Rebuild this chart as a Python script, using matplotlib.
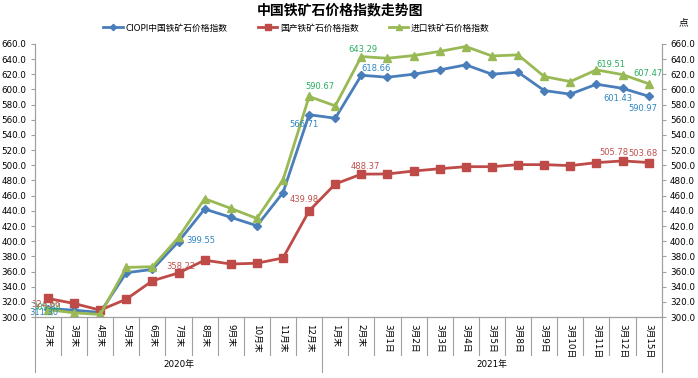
"""中国铁矿石价格指数走势图"""
import numpy as np
import matplotlib
matplotlib.use("Agg")
import matplotlib.pyplot as plt
import matplotlib.transforms as mtransforms

plt.rcParams['font.family'] = ['DejaVu Sans', 'Noto Sans CJK SC']

cats_2020 = ['2月末', '3月末', '4月末', '5月末', '6月末', '7月末', '8月末', '9月末',
             '10月末', '11月末', '12月末']
cats_2021 = ['1月末', '2月末', '3月1日', '3月2日', '3月3日', '3月4日', '3月5日',
             '3月8日', '3月9日', '3月10日', '3月11日', '3月12日', '3月15日']
years = ['2020年', '2021年']

ciopi = [311.30, 309.2, 306.2, 358.5, 362.9, 399.55, 442.4, 431.5, 420.4, 464.0,
         566.71, 562.0, 618.66, 616.0, 620.0, 625.7, 632.3, 620.0, 622.7, 598.5,
         593.7, 606.8, 601.43, 590.97]
domestic = [324.66, 318.0, 309.2, 323.7, 347.9, 358.22, 375.0, 370.0, 371.0, 378.0,
            439.98, 475.4, 488.37, 488.6, 492.5, 495.5, 498.2, 498.2, 500.9, 500.9,
            499.6, 503.5, 505.78, 503.68]
imported = [309.84, 305.7, 303.5, 365.5, 366.4, 405.0, 456.0, 443.3, 430.0, 480.7,
            590.67, 578.3, 643.29, 641.0, 644.6, 650.0, 656.5, 644.0, 645.5, 617.0,
            610.3, 625.7, 619.51, 607.47]

series_names = ['CIOPI中国铁矿石价格指数', '国产铁矿石价格指数', '进口铁矿石价格指数']

cats = cats_2020 + cats_2021
x = np.arange(len(cats))

fig = plt.figure(figsize=(6.98, 3.78), dpi=100)
ax = fig.add_axes([0.050, 0.161, 0.898, 0.723])

blue, red, green = '#4A7EBB', '#BE4B48', '#98B954'
ax.plot(x, ciopi, color=blue, lw=2.0, marker='D', ms=4, label=series_names[0])
ax.plot(x, domestic, color=red, lw=2.0, marker='s', ms=5.5, label=series_names[1])
ax.plot(x, imported, color=green, lw=2.0, marker='^', ms=5.5, label=series_names[2])

# data labels: (series, index, dx, dy) in pixels
lab_blue, lab_red, lab_green = '#2E86C1', '#C0504D', '#27AE60'
labels = [
    (ciopi, 0, -4, -4, lab_blue), (imported, 0, -1, 2, lab_green),
    (domestic, 0, -2, -6, lab_red), (domestic, 5, 2, 6, lab_red),
    (ciopi, 5, 22, 1, lab_blue), (ciopi, 10, -5, -10, lab_blue),
    (imported, 10, 11, 10, lab_green), (domestic, 10, -5, 11, lab_red),
    (imported, 12, 2, 7, lab_green), (ciopi, 12, 15, 7, lab_blue),
    (domestic, 12, 4, 8, lab_red), (imported, 22, -12, 10, lab_green),
    (ciopi, 22, -5, -10, lab_blue), (imported, 23, -1, 10, lab_green),
    (ciopi, 23, -6, -12, lab_blue), (domestic, 22, -9, 8, lab_red),
    (domestic, 23, -6, 9, lab_red),
]
for s, i, dx, dy, c in labels:
    ax.annotate(f'{s[i]:.2f}', (x[i], s[i]), xytext=(dx, dy), textcoords='offset pixels',
                ha='center', va='center', fontsize=6, color=c)

yticks = np.arange(300, 661, 20)
ax.set_ylim(300, 660)
ax.set_xlim(-0.5, len(cats) - 0.5)
ax.set_yticks(yticks, [f'{v:.1f}' for v in yticks])
ax.set_xticks(x, cats, rotation=-90, fontsize=6.3)
ax.tick_params(axis='x', length=0, pad=5)
ax.tick_params(axis='y', labelsize=6.3, length=3, color='#A0A0A0', pad=3)

ax2 = ax.twinx()
ax2.set_ylim(300, 660)
ax2.set_yticks(yticks, [f'{v:.1f}' for v in yticks])
ax2.tick_params(axis='y', labelsize=6.3, length=3, color='#A0A0A0', pad=3)

for a in (ax, ax2):
    a.spines['top'].set_visible(False)
    for sp in ('left', 'right', 'bottom'):
        a.spines[sp].set_color('#A0A0A0')

# category separators below the axis
trans = mtransforms.blended_transform_factory(ax.transData, ax.transAxes)
n20 = len(cats_2020)
for b in np.arange(len(cats) + 1) - 0.5:
    low = -0.201 if b in (-0.5, n20 - 0.5, len(cats) - 0.5) else -0.139
    ax.plot([b, b], [0, low], transform=trans, color='#A0A0A0', lw=0.8, clip_on=False)

ax.text((n20 - 1) / 2, -0.175, years[0], transform=trans, ha='center', va='center', fontsize=6.3)
ax.text(n20 + (len(cats_2021) - 1) / 2, -0.175, years[1], transform=trans,
        ha='center', va='center', fontsize=6.3)

fig.text(0.487, 0.972, '中国铁矿石价格指数走势图', ha='center', va='center',
         fontsize=10, fontweight='bold')
fig.text(0.979, 0.942, '点', ha='center', va='center', fontsize=7)
fig.legend(loc='center', bbox_to_anchor=(0.425, 0.926), ncol=3, frameon=False,
           fontsize=6.3, handlelength=2.2, columnspacing=3.5, handletextpad=0.3,
           markerscale=0.8)

fig.savefig('out.png', dpi=100)
